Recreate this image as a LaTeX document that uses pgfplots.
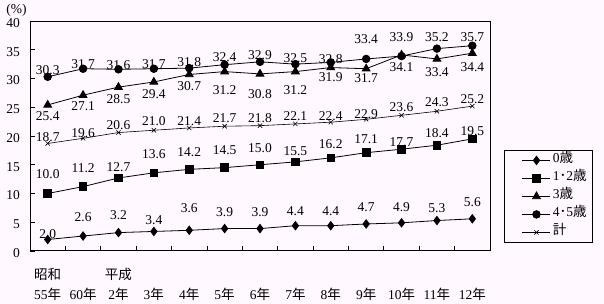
\documentclass[border=0pt]{standalone}
\usepackage{fontspec}
\setmainfont{Liberation Serif}
\newfontfamily\jp{Noto Sans CJK JP}
\usepackage{pgfplots}
\pgfplotsset{compat=1.18}
\usepackage{pgfplotstable}
\definecolor{bg}{RGB}{255,248,255}
\newcommand\fs{\fontsize{13.5bp}{16bp}\selectfont}

\pgfplotstableread{
x y up
0 2.0 5.5
1 2.6 19
2 3.2 17
3 3.4 11.5
4 3.6 22
5 3.9 16
6 3.9 16
7 4.4 15
8 4.4 15
9 4.7 17
10 4.9 16
11 5.3 12.5
12 5.6 17
}\tzero
\pgfplotstableread{
x y up
0 10.0 19.5
1 11.2 18
2 12.7 10.5
3 13.6 19
4 14.2 17
5 14.5 17
6 15.0 17
7 15.5 11
8 16.2 14
9 17.1 14
10 17.7 7
11 18.4 12
12 19.5 8
}\tone
\pgfplotstableread{
x y up
0 25.4 -11
1 27.1 -11
2 28.5 -12
3 29.4 -12
4 30.7 -12
5 31.2 -19
6 30.8 -20
7 31.2 -19
8 31.9 -10
9 31.7 -9
10 34.1 -12
11 33.4 -13
12 34.4 -14
}\tthree
\pgfplotstableread{
x y up
0 30.3 7
1 31.7 5
2 31.6 4
3 31.7 5
4 31.8 6
5 32.4 8
6 32.9 7
7 32.5 6
8 32.8 3.5
9 33.4 20
10 33.9 19
11 35.2 11
12 35.7 9
}\tfour
\pgfplotstableread{
x y up
0 18.7 6
1 19.6 5
2 20.6 7
3 21.0 9
4 21.4 7
5 21.7 8
6 21.8 8
7 22.1 8
8 22.4 6
9 22.9 5
10 23.6 8
11 24.3 9
12 25.2 7
}\ttotal

\pgfplotsset{
  lab/.style={
    nodes near coords={\pgfmathprintnumber[fixed,fixed zerofill,precision=1]{\pgfplotspointmeta}},
    visualization depends on={\thisrow{up}\as\up},
    every node near coord/.append style={anchor=center, yshift=\up*1bp, font=\fs, inner sep=0pt, text=black},
  },
  ser/.style={black, line width=0.8bp, mark options={solid, fill=black, draw=black}},
  mylegend/.style={legend image code/.code={%
    \draw[bg, line width=0.2bp] (-12bp,0bp) -- (0bp,0bp);
    \draw[mark repeat=2,mark phase=2,##1] plot coordinates {(0bp,0bp) (14bp,0bp) (28bp,0bp)};
  }},
}

\begin{document}
\begin{tikzpicture}
\useasboundingbox (0,0) rectangle (604bp,304bp);
\fill[bg] (0,0) rectangle (604bp,304bp);
\node[font=\fs, anchor=center] at (16.5bp,294bp) {(\%)};
\begin{axis}[
  at={(30bp,53bp)}, anchor=south west,
  scale only axis, width=460bp, height=230bp,
  xmin=-0.5, xmax=12.5, ymin=0, ymax=40,
  xtick={-0.5,0.5,...,12.5},
  x tick label as interval,
  xticklabels={{55{\jp 年}},{60{\jp 年}},{2{\jp 年}},{3{\jp 年}},{4{\jp 年}},{5{\jp 年}},{6{\jp 年}},{7{\jp 年}},{8{\jp 年}},{9{\jp 年}},{10{\jp 年}},{11{\jp 年}},{12{\jp 年}}},
  ytick={0,5,...,40},
  tick pos=left, tick align=inside, major tick length=5bp,
  axis line style={line width=1bp},
  tick style={line width=0.8bp, black},
  xticklabel style={font=\fs, anchor=center, yshift=-43bp, inner sep=0pt},
  yticklabel style={font=\fs, anchor=east, inner sep=0pt, xshift=-10bp, yshift=-2bp},
  /pgf/number format/assume math mode=true,
  clip=false,
  legend style={at={(1.0304,0.439)}, anchor=north west, draw=black, line width=0.8bp,
    fill=bg, font=\fs, inner xsep=6bp, inner ysep=1bp, row sep=0pt, column sep=2bp,
    nodes={inner sep=0pt, text height=11bp, text depth=7bp}},
  legend cell align=left,
]
\addplot[ser, mark=diamond*, mark size=4.2bp, lab, mylegend] table[x=x,y=y]{\tzero};
\addlegendentry{0{\jp 歳}}
\addplot[ser, mark=square*, mark size=3.8bp, lab, mylegend] table[x=x,y=y]{\tone};
\addlegendentry{1{\jp ･}2{\jp 歳}}
\addplot[ser, mark=triangle*, mark size=4.5bp, lab, mylegend] table[x=x,y=y]{\tthree};
\addlegendentry{3{\jp 歳}}
\addplot[ser, mark=*, mark size=3.8bp, lab, mylegend] table[x=x,y=y]{\tfour};
\addlegendentry{4{\jp ･}5{\jp 歳}}
\addplot[ser, line width=0.6bp, mark=x, mark size=3bp, lab, mylegend] table[x=x,y=y]{\ttotal};
\addlegendentry{{\jp 計}}
\node[font=\fs\jp, anchor=center] at (axis cs:0,0) [yshift=-23bp] {昭和};
\node[font=\fs\jp, anchor=center] at (axis cs:2,0) [yshift=-23bp] {平成};
\end{axis}
\end{tikzpicture}
\end{document}
